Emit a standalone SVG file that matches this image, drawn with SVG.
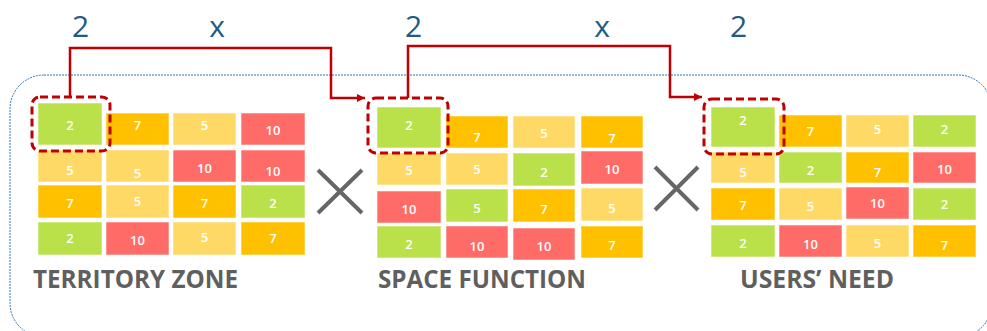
<svg xmlns="http://www.w3.org/2000/svg" width="987" height="331" viewBox="0 0 987 331">
<defs>
<style>
.g{fill:#BAE04A}.o{fill:#FFC000}.y{fill:#FFD966}.r{fill:#FF6B66}
.cell rect{stroke:#ffffff;stroke-opacity:0.55;stroke-width:1}
.cell text{font-family:"Open Sans","Liberation Sans",sans-serif;font-size:13px;font-weight:600;fill:#ffffff;text-anchor:middle}
.title{font-family:"Open Sans","Liberation Sans",sans-serif;font-size:25px;font-weight:700;fill:#5F5F5F}
.top{font-family:"Open Sans","Liberation Sans",sans-serif;font-size:30px;fill:#1F5C84;text-anchor:middle}
.hl{fill:none;stroke:#C00000;stroke-width:3;stroke-dasharray:8 4}
.conn{fill:none;stroke:#C00000;stroke-width:2.5}
.times{stroke:#666666;stroke-width:4;fill:none}
</style>
<marker id="arr" viewBox="0 0 10 10" refX="10" refY="5" markerWidth="9" markerHeight="8" markerUnits="userSpaceOnUse" orient="auto">
<path d="M0,0 L10,5 L0,10 z" fill="#C00000"/>
</marker>
</defs>
<rect width="987" height="331" fill="#ffffff"/>
<rect id="container" x="10" y="75" width="982" height="262" rx="34" fill="none" stroke="#2E75B6" stroke-width="1" stroke-dasharray="2 1"/>

<g id="top-labels">
<text class="top" x="80.5" y="37">2</text>
<text class="top" x="217" y="37">x</text>
<text class="top" x="413.5" y="37">2</text>
<text class="top" x="602" y="37">x</text>
<text class="top" x="738.5" y="37">2</text>
</g>

<g id="territory-zone">
<g class="cell">
<rect class="g" x="38" y="103" width="64" height="42"/><text x="70" y="129.5">2</text>
<rect class="o" x="106" y="113" width="63" height="32"/><text x="137.5" y="129.5">7</text>
<rect class="y" x="173" y="113" width="63" height="32"/><text x="204.5" y="129.5">5</text>
<rect class="r" x="241" y="113" width="64" height="32"/><text x="273" y="134.5">10</text>
<rect class="y" x="38" y="150" width="64" height="32"/><text x="70" y="174.5">5</text>
<rect class="y" x="106" y="150" width="63" height="32"/><text x="137.5" y="177.5">5</text>
<rect class="r" x="173" y="150" width="63" height="32"/><text x="204.5" y="172.5">10</text>
<rect class="r" x="241" y="150" width="64" height="32"/><text x="273" y="175.5">10</text>
<rect class="o" x="38" y="185" width="64" height="33"/><text x="70" y="207.5">7</text>
<rect class="y" x="106" y="185" width="63" height="33"/><text x="137.5" y="205.5">5</text>
<rect class="o" x="173" y="185" width="63" height="33"/><text x="204.5" y="207.5">7</text>
<rect class="g" x="241" y="185" width="64" height="33"/><text x="273" y="207.5">2</text>
<rect class="g" x="38" y="222" width="64" height="33"/><text x="70" y="242.5">2</text>
<rect class="r" x="106" y="222" width="63" height="33"/><text x="137.5" y="244.5">10</text>
<rect class="y" x="173" y="222" width="63" height="33"/><text x="204.5" y="241.5">5</text>
<rect class="o" x="241" y="222" width="64" height="33"/><text x="273" y="242.5">7</text>
</g>
<text class="title" x="33" y="288" textLength="205" lengthAdjust="spacingAndGlyphs">TERRITORY ZONE</text>
</g>

<g id="space-function">
<g class="cell">
<rect class="g" x="377" y="107" width="64" height="41"/><text x="409" y="129.5">2</text>
<rect class="o" x="446" y="116" width="62" height="32"/><text x="477" y="141.5">7</text>
<rect class="y" x="513" y="116" width="62" height="32"/><text x="544" y="137.5">5</text>
<rect class="o" x="581" y="116" width="62" height="32"/><text x="612" y="142.5">7</text>
<rect class="y" x="377" y="153" width="64" height="32"/><text x="409" y="174.5">5</text>
<rect class="y" x="446" y="153" width="62" height="32"/><text x="477" y="173.5">5</text>
<rect class="g" x="513" y="153" width="62" height="33"/><text x="544" y="176.5">2</text>
<rect class="r" x="581" y="151" width="62" height="33"/><text x="612" y="173.5">10</text>
<rect class="r" x="377" y="191" width="64" height="32"/><text x="409" y="213.5">10</text>
<rect class="g" x="446" y="189" width="62" height="33"/><text x="477" y="212.5">5</text>
<rect class="o" x="513" y="189" width="62" height="33"/><text x="544" y="213.5">7</text>
<rect class="y" x="581" y="188" width="62" height="33"/><text x="612" y="212.5">5</text>
<rect class="g" x="377" y="226" width="64" height="32"/><text x="409" y="248.5">2</text>
<rect class="r" x="446" y="226" width="62" height="32"/><text x="477" y="250.5">10</text>
<rect class="r" x="513" y="228" width="62" height="32"/><text x="544" y="250.5">10</text>
<rect class="o" x="581" y="226" width="62" height="32"/><text x="612" y="249.5">7</text>
</g>
<text class="title" x="378" y="288" textLength="208" lengthAdjust="spacingAndGlyphs">SPACE FUNCTION</text>
</g>

<g id="users-need">
<g class="cell">
<rect class="g" x="711" y="107" width="64" height="40"/><text x="743" y="124.5">2</text>
<rect class="o" x="779" y="115" width="63" height="32"/><text x="810.5" y="135.5">7</text>
<rect class="y" x="846" y="115" width="63" height="32"/><text x="877.5" y="133.5">5</text>
<rect class="g" x="913" y="115" width="63" height="32"/><text x="944.5" y="133.5">2</text>
<rect class="y" x="711" y="152" width="64" height="31"/><text x="743" y="176.5">5</text>
<rect class="g" x="779" y="152" width="63" height="31"/><text x="810.5" y="174.5">2</text>
<rect class="o" x="846" y="152" width="63" height="31"/><text x="877.5" y="176.5">7</text>
<rect class="r" x="913" y="152" width="63" height="31"/><text x="944.5" y="173.5">10</text>
<rect class="o" x="711" y="188" width="64" height="32"/><text x="743" y="209.5">7</text>
<rect class="y" x="779" y="188" width="63" height="32"/><text x="810.5" y="210.5">5</text>
<rect class="r" x="846" y="187" width="63" height="32"/><text x="877.5" y="207.5">10</text>
<rect class="g" x="913" y="188" width="63" height="32"/><text x="944.5" y="208.5">2</text>
<rect class="g" x="711" y="225" width="64" height="32"/><text x="743" y="247.5">2</text>
<rect class="r" x="779" y="225" width="63" height="32"/><text x="810.5" y="248.5">10</text>
<rect class="y" x="846" y="225" width="63" height="32"/><text x="877.5" y="247.5">5</text>
<rect class="o" x="913" y="225" width="63" height="32"/><text x="944.5" y="249.5">7</text>
</g>
<text class="title" x="740" y="288" textLength="154" lengthAdjust="spacingAndGlyphs">USERS’ NEED</text>
</g>

<g id="highlights">
<rect class="hl" x="32" y="97" width="78" height="54" rx="8"/>
<rect class="hl" x="368" y="98" width="80" height="55" rx="8"/>
<rect class="hl" x="704" y="99" width="80" height="55" rx="8"/>
</g>

<g id="operators">
<path class="times" d="M318,170 L362,213 M362,170 L318,213"/>
<path class="times" d="M655,167 L698,210 M698,167 L655,210"/>
</g>

<g id="connectors">
<path class="conn" d="M70,97 V48 H331 V98 H365" marker-end="url(#arr)"/>
<path class="conn" d="M408,98 V46 H670 V97 H702" marker-end="url(#arr)"/>
</g>
</svg>
